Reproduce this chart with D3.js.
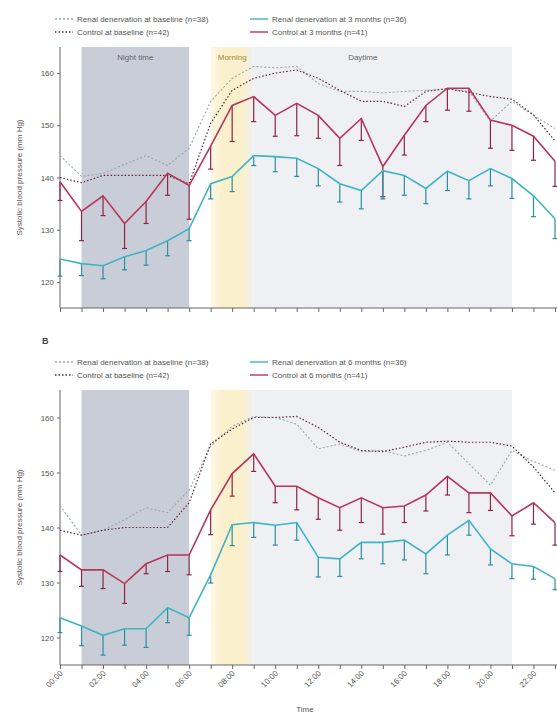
<!DOCTYPE html>
<html>
<head>
<meta charset="utf-8">
<script src="https://cdn.jsdelivr.net/npm/d3@7"></script>
<style>
  html, body { margin: 0; padding: 0; background: #fff; }
  svg { display: block; font-family: "Liberation Sans", Arial, sans-serif; }
</style>
</head>
<body>
<svg id="chart" width="557" height="717"></svg>
<script>
// ---------- data ----------
const hours = d3.range(0, 24);
const hourLabels = ["00:00","02:00","04:00","06:00","08:00","10:00","12:00","14:00","16:00","18:00","20:00","22:00"];
const yTicks = [120, 130, 140, 150, 160];
const periods = [
  { name: "Night time", start: 1, end: 6 },
  { name: "Morning", start: 7, end: 9 },
  { name: "Daytime", start: 9, end: 21 }
];

// Panel A (3 months)
const aRdnBaseline = [144.2,140.2,140.8,142.5,144.2,142.3,145.6,154.6,159,161.3,161,161.3,158,156.5,156.5,156.2,156.5,156.7,157,156.5,150.8,154.6,151.9,149.4];
const aCtrlBaseline = [140,139,140.4,140.4,140.4,140.4,138.8,150.4,156.7,159,160,160.6,159,156.7,154.6,154.6,153.6,156.5,157,156.3,155.5,155,152,147];
const aRdnFollow = [124.4,123.5,123.1,124.8,126,127.9,130.2,138.8,140.2,144.2,144,143.7,141.7,138.8,137.5,141.3,140.4,137.9,141.2,139.4,141.7,139.8,136.5,132.1];
const aRdnErr = [3.3,2.3,2.5,2.5,2.8,2.9,2.3,2.9,2.9,1.9,2.9,3.5,3.3,3.5,3.5,5.4,3.8,2.9,3.7,3.5,3.3,3.8,4,3.8];
const aCtrlFollow = [139.2,133.5,136.5,131.2,135.4,140.8,138.5,146,153.8,155.5,151.9,154.2,151.9,147.5,151.3,142.1,148.1,153.8,157.1,157.1,151,150,147.9,143.1];
const aCtrlErr = [3.6,5.6,3.8,4.8,4.2,4.2,6.5,4.4,6.9,4.8,4,6.2,4.4,5.2,4.2,5.8,3.8,3.1,4.2,4.4,5.4,4.8,4.6,4.8];

// Panel B (6 months)
const bRdnBaseline = [144,138.6,139.5,141.4,143.6,142.7,146.8,154.8,158.4,160.2,160,158.8,154.3,155.2,153.8,154,153,154,155.5,151.6,147.7,154,152,150.4];
const bCtrlBaseline = [139.5,138.6,139.5,140,140,140,144.5,155.2,157.9,160,160,160.2,158.2,155.5,154,153.8,154.6,155.5,155.7,155.5,155.5,154.8,151,146.3];
const bRdnFollow = [123.6,122.1,120.4,121.6,121.6,125.4,123.6,131.4,140.5,140.9,140.4,140.9,134.6,134.3,137.3,137.3,137.7,135.2,138.6,141.3,136.1,133.4,132.9,130.7];
const bRdnErr = [2.7,3.6,3.6,3,3.4,2.7,3.2,1.5,3.8,2.7,3.6,3.2,3.6,3.2,3,3.9,3.6,3.6,3.6,2.7,2.9,2.7,2.3,2];
const bCtrlFollow = [135,132.3,132.3,129.8,133.4,135,135,143.2,149.8,153.4,147.5,147.5,145.4,143.6,145.4,143.6,143.9,145.9,149.3,146.3,146.3,142.1,144.5,140.9];
const bCtrlErr = [3,3,3.4,3.6,1.8,3,3.6,4.5,4.1,3.2,3,4.3,3.9,4.1,4.5,4.8,3,2.9,3.4,3.6,3.2,3.6,3.9,4.1];

const legendA = ["Renal denervation at baseline (n=38)", "Control at baseline (n=42)", "Renal denervation at 3 months (n=36)", "Control at 3 months (n=41)"];
const legendB = ["Renal denervation at baseline (n=38)", "Control at baseline (n=42)", "Renal denervation at 6 months (n=36)", "Control at 6 months (n=41)"];

// ---------- style ----------
const C = {
  rdn: "#3fb4c4", rdnDark: "#2b8f9d",
  ctrl: "#b8355c", ctrlDark: "#8e2443",
  rdnBase: "#98a8ad", ctrlBase: "#5a2733",
  night: "#c9cdd8", morning: "#fbf0cc", day: "#eef0f4",
  text: "#555", axis: "#666"
};

const svg = d3.select("#chart");
const x = d3.scaleLinear().domain([0, 23]).range([60, 555]);

// gradient for morning band
const defs = svg.append("defs");
const g = defs.append("linearGradient").attr("id", "mgrad").attr("x1", "0").attr("x2", "1");
g.append("stop").attr("offset", "0").attr("stop-color", C.morning).attr("stop-opacity", 0.5);
g.append("stop").attr("offset", "0.3").attr("stop-color", C.morning);
g.append("stop").attr("offset", "0.75").attr("stop-color", C.morning);
g.append("stop").attr("offset", "1").attr("stop-color", C.day);

function panel(cfg) {
  const y = d3.scaleLinear().domain([115, 165]).range([cfg.bottom, cfg.top]);
  const root = svg.append("g");

  // bands
  const fills = [C.night, "url(#mgrad)", C.day];
  periods.forEach((p, i) => {
    root.append("rect")
      .attr("x", x(p.start)).attr("y", cfg.top)
      .attr("width", x(p.end) - x(p.start)).attr("height", cfg.bottom - cfg.top)
      .attr("fill", fills[i]);
    if (cfg.bandLabels) {
      root.append("text")
        .attr("x", (x(p.start) + x(p.end)) / 2 + (i === 2 ? -20 : 0))
        .attr("y", cfg.top + 13)
        .attr("text-anchor", "middle")
        .attr("font-size", 8).attr("fill", i === 1 ? "#a08a3a" : "#666")
        .text(p.name);
    }
  });

  // axes
  const ya = root.append("g").attr("transform", `translate(${x(0)},0)`)
    .call(d3.axisLeft(y).tickValues(yTicks).tickSize(3).tickPadding(3));
  ya.select(".domain").attr("stroke", C.axis).attr("d", `M0,${cfg.top}V${cfg.bottom}`);
  ya.selectAll(".tick line").attr("stroke", C.axis);
  ya.selectAll(".tick text").attr("font-size", 8).attr("fill", C.text).attr("font-family", "Liberation Sans, Arial, sans-serif");

  const xa = root.append("g").attr("transform", `translate(0,${cfg.bottom})`)
    .call(d3.axisBottom(x).tickValues(hours).tickSize(4)
      .tickFormat(d => (cfg.xLabels && d % 2 === 0) ? hourLabels[d / 2] : ""));
  xa.select(".domain").attr("stroke", C.axis).attr("d", `M${x(0)},0H557`);
  xa.selectAll(".tick line").attr("stroke", C.axis);
  xa.selectAll(".tick text")
    .attr("font-size", 8).attr("fill", C.text).attr("font-family", "Liberation Sans, Arial, sans-serif")
    .attr("text-anchor", "end")
    .attr("transform", "translate(-2,4) rotate(-45)")
    .attr("dy", "0.35em").attr("y", 4);

  // y title
  root.append("text")
    .attr("transform", `translate(22,${(cfg.top + cfg.bottom) / 2}) rotate(-90)`)
    .attr("text-anchor", "middle").attr("font-size", 8).attr("fill", C.text)
    .text("Systolic blood pressure (mm Hg)");

  const line = d3.line().x((d, i) => x(i)).y(d => y(d));

  // baselines
  root.append("path").datum(cfg.rdnBase).attr("d", line).attr("fill", "none")
    .attr("stroke", C.rdnBase).attr("stroke-width", 1.1).attr("stroke-dasharray", "2,2");
  root.append("path").datum(cfg.ctrlBase).attr("d", line).attr("fill", "none")
    .attr("stroke", C.ctrlBase).attr("stroke-width", 1.2).attr("stroke-dasharray", "1.5,2");

  // follow-up with error bars
  function series(vals, errs, col, dark) {
    const eg = root.append("g");
    vals.forEach((v, i) => {
      const y0 = y(v), y1 = y(v - errs[i]);
      eg.append("line").attr("x1", x(i)).attr("x2", x(i)).attr("y1", y0).attr("y2", y1)
        .attr("stroke", dark).attr("stroke-width", 1.2);
      eg.append("line").attr("x1", x(i) - 2.5).attr("x2", x(i) + 2.5).attr("y1", y1).attr("y2", y1)
        .attr("stroke", dark).attr("stroke-width", 1.2);
    });
    root.append("path").datum(vals).attr("d", line).attr("fill", "none")
      .attr("stroke", col).attr("stroke-width", 1.6);
  }
  series(cfg.ctrlFollow, cfg.ctrlErr, C.ctrl, C.ctrlDark);
  series(cfg.rdnFollow, cfg.rdnErr, C.rdn, C.rdnDark);

  // legend
  const lg = root.append("g");
  const items = [
    { t: cfg.legend[0], col: C.rdnBase, dash: "2,2", lx: 55, ly: cfg.legY },
    { t: cfg.legend[1], col: C.ctrlBase, dash: "1.5,2", lx: 55, ly: cfg.legY + 13 },
    { t: cfg.legend[2], col: C.rdn, dash: null, lx: 250, ly: cfg.legY },
    { t: cfg.legend[3], col: C.ctrl, dash: null, lx: 250, ly: cfg.legY + 13 }
  ];
  items.forEach(it => {
    lg.append("line").attr("x1", it.lx).attr("x2", it.lx + 18).attr("y1", it.ly).attr("y2", it.ly)
      .attr("stroke", it.col).attr("stroke-width", 1.4).attr("stroke-dasharray", it.dash);
    lg.append("text").attr("x", it.lx + 22).attr("y", it.ly).attr("dy", "0.35em")
      .attr("font-size", 8).attr("fill", C.text).text(it.t);
  });

  if (cfg.letter) {
    root.append("text").attr("x", 42).attr("y", cfg.letterY).attr("font-size", 9)
      .attr("font-weight", "bold").attr("fill", "#444").text(cfg.letter);
  }
}

panel({
  top: 47, bottom: 308, bandLabels: true, xLabels: false, legY: 19,
  rdnBase: aRdnBaseline, ctrlBase: aCtrlBaseline,
  rdnFollow: aRdnFollow, rdnErr: aRdnErr, ctrlFollow: aCtrlFollow, ctrlErr: aCtrlErr,
  legend: legendA
});
panel({
  top: 390, bottom: 665, bandLabels: false, xLabels: true, legY: 362,
  rdnBase: bRdnBaseline, ctrlBase: bCtrlBaseline,
  rdnFollow: bRdnFollow, rdnErr: bRdnErr, ctrlFollow: bCtrlFollow, ctrlErr: bCtrlErr,
  legend: legendB, letter: "B", letterY: 344
});

svg.append("text").attr("x", 305).attr("y", 712).attr("text-anchor", "middle")
  .attr("font-size", 8).attr("fill", C.text).text("Time");
</script>
</body>
</html>
